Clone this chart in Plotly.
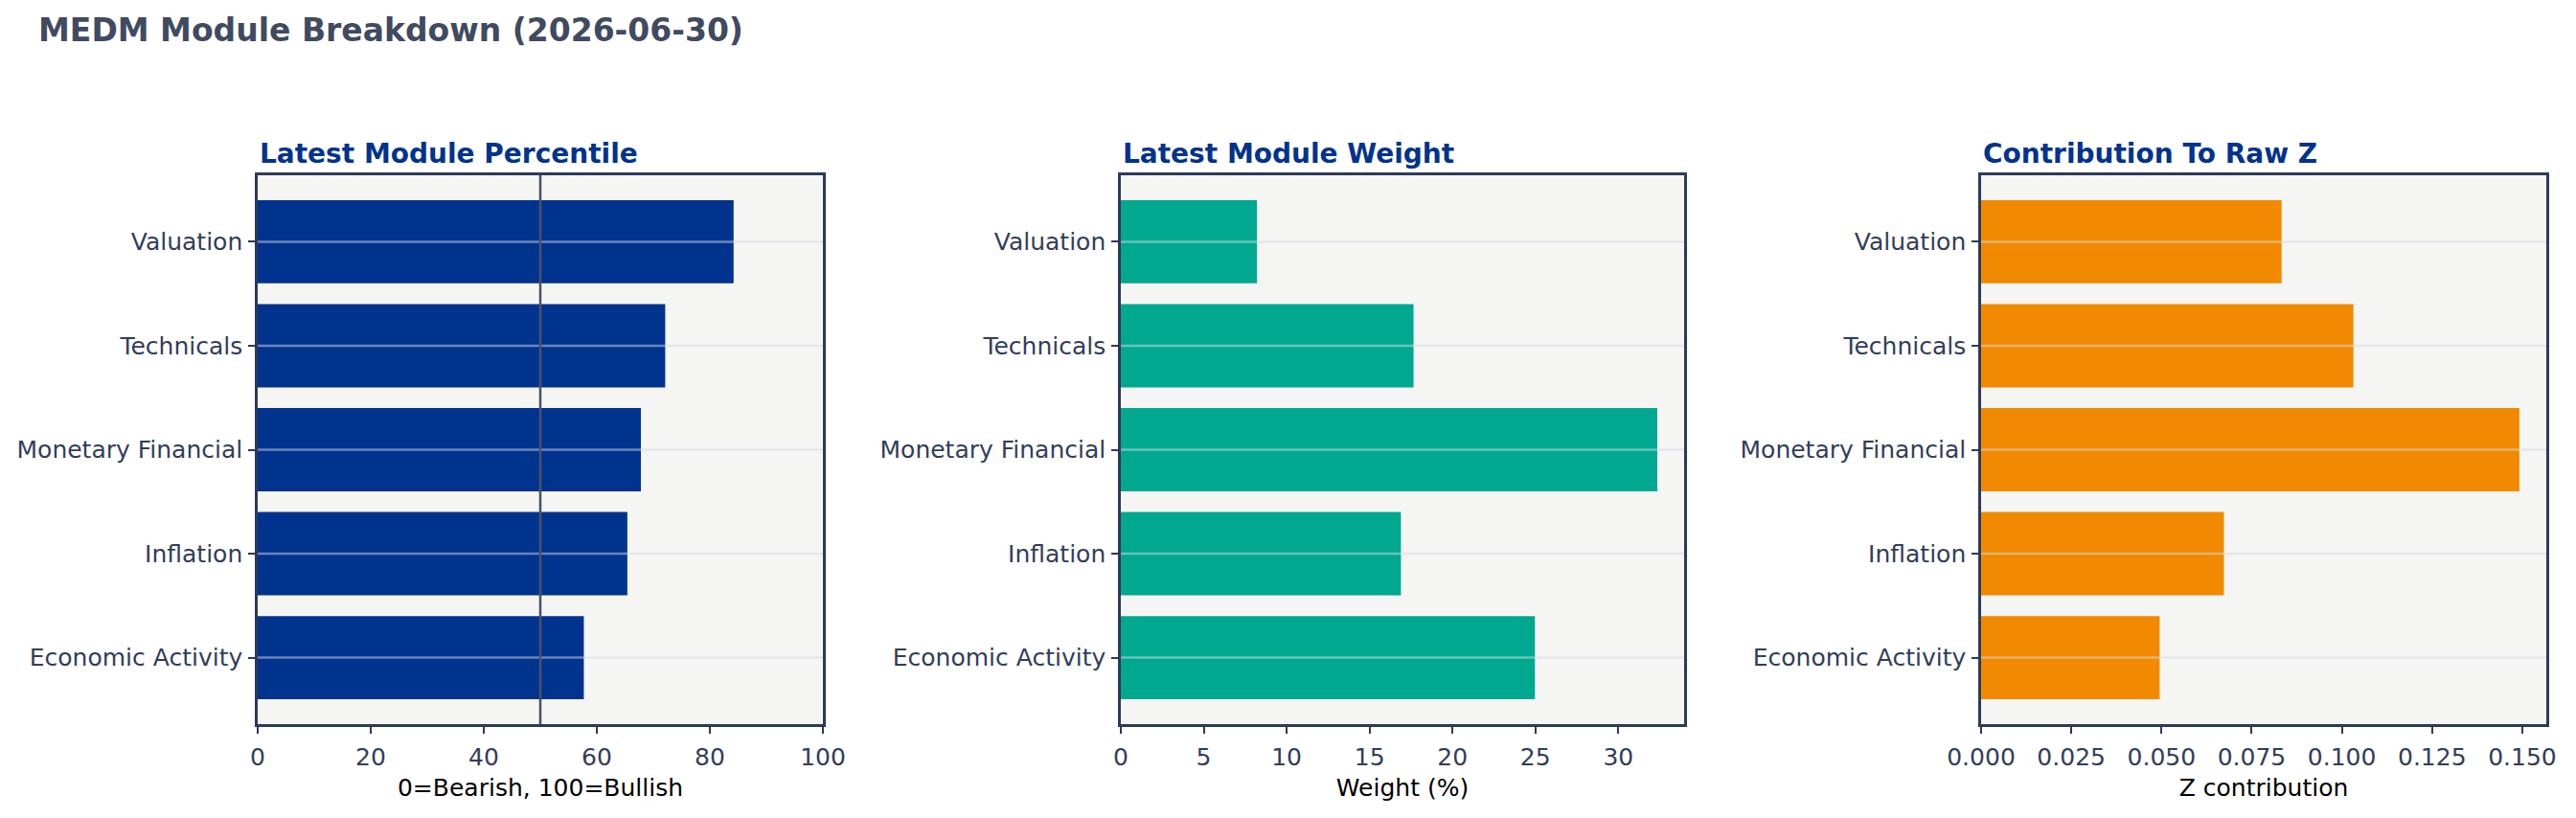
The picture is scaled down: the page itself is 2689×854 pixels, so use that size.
import plotly.graph_objects as go

W, H = 2689, 854

# ---- data (bottom -> top order for plotly categorical axis) ----
modules = ["Economic Activity", "Inflation", "Monetary Financial", "Technicals", "Valuation"]
percentile = [57.7, 65.4, 67.8, 72.1, 84.2]
weight_pct = [24.97, 16.89, 32.35, 17.65, 8.21]
z_contrib = [0.0495, 0.0673, 0.1492, 0.1032, 0.0833]

panel_titles = ["Latest Module Percentile", "Latest Module Weight", "Contribution To Raw Z"]
x_titles = ["0=Bearish, 100=Bullish", "Weight (%)", "Z contribution"]
colors = ["#00338d", "#00a88f", "#f18a00"]
neutral_line = 50

FONT = "DejaVu Sans"
FRAME = "#2e3a5a"
TICKTXT = "#323d5a"
BG = "#f5f5f3"

# pixel layout of the three plot areas
x_px = [(269, 859), (1170, 1758), (2068, 2658)]
y_top, y_bot = 183, 756

fig = go.Figure()

series = [percentile, weight_pct, z_contrib]
ranges = [[0, 100], [0, max(weight_pct) * 1.05], [0, max(z_contrib) * 1.05]]
dticks = [20, 5, 0.025]
tickfmts = ["d", "d", ".3f"]

for i in range(3):
    xa = "x" if i == 0 else f"x{i+1}"
    ya = "y" if i == 0 else f"y{i+1}"
    fig.add_trace(go.Bar(
        x=series[i], y=modules, orientation="h", width=0.8,
        marker=dict(color=colors[i], line=dict(width=0)),
        xaxis=xa, yaxis=ya, showlegend=False,
    ))
    xkey = "xaxis" if i == 0 else f"xaxis{i+1}"
    ykey = "yaxis" if i == 0 else f"yaxis{i+1}"
    x0, x1 = x_px[i]
    fig.update_layout(**{
        xkey: dict(
            domain=[x0 / W, x1 / W], anchor=ya, range=ranges[i],
            dtick=dticks[i], tick0=0, tickformat=tickfmts[i],
            showgrid=False, zeroline=False, automargin=False,
            showline=True, linecolor=FRAME, linewidth=2.5, mirror=True,
            ticks="outside", ticklen=7, tickwidth=2, tickcolor=FRAME,
            ticklabelstandoff=3,
            tickfont=dict(family=FONT, size=25, color=TICKTXT),
            title=dict(text=x_titles[i], font=dict(family=FONT, size=25, color="#000000"), standoff=10),
        ),
        ykey: dict(
            domain=[1 - y_bot / H, 1 - y_top / H], anchor=xa,
            type="category", categoryorder="array", categoryarray=modules,
            range=[-0.64, len(modules) - 1 + 0.64],
            showgrid=False, zeroline=False, automargin=False,
            showline=True, linecolor=FRAME, linewidth=2.5, mirror=True,
            ticks="outside", ticklen=7, tickwidth=2, tickcolor=FRAME,
            ticklabelstandoff=1,
            tickfont=dict(family=FONT, size=25, color=TICKTXT),
        ),
    })
    # background of plot area
    fig.add_shape(type="rect", xref=f"{xa} domain", yref=f"{ya} domain",
                  x0=0, x1=1, y0=0, y1=1, fillcolor=BG, line=dict(width=0), layer="below")
    # horizontal gridlines drawn above bars (semi-transparent)
    for m in modules:
        fig.add_shape(type="line", xref=f"{xa} domain", yref=ya, x0=0, x1=1, y0=m, y1=m,
                      line=dict(color="rgba(212,220,230,0.5)", width=2.5), layer="above")
    # panel title
    fig.add_annotation(text=f"<b>{panel_titles[i]}</b>", xref="paper", yref="paper",
                       x=x0 / W, y=1 - 160 / H, xanchor="left", yanchor="middle",
                       showarrow=False, font=dict(family=FONT, size=28, color="#00338d"))

# neutral reference line at 50 in the percentile panel
fig.add_shape(type="line", xref="x", yref="y domain", x0=neutral_line, x1=neutral_line, y0=0, y1=1,
              line=dict(color="#4a5068", width=2.5), layer="above")

fig.add_annotation(text="<b>MEDM Module Breakdown (2026-06-30)</b>", xref="paper", yref="paper",
                   x=38 / W, y=1 - 31 / H, xanchor="left", yanchor="middle", showarrow=False,
                   font=dict(family=FONT, size=33, color="#404a60"))

fig.update_layout(
    width=W, height=H,
    margin=dict(l=0, r=0, t=0, b=0, autoexpand=False),
    paper_bgcolor="white", plot_bgcolor=BG,
    bargap=0.2,
    font=dict(family=FONT),
)

fig.write_html("out.html")
